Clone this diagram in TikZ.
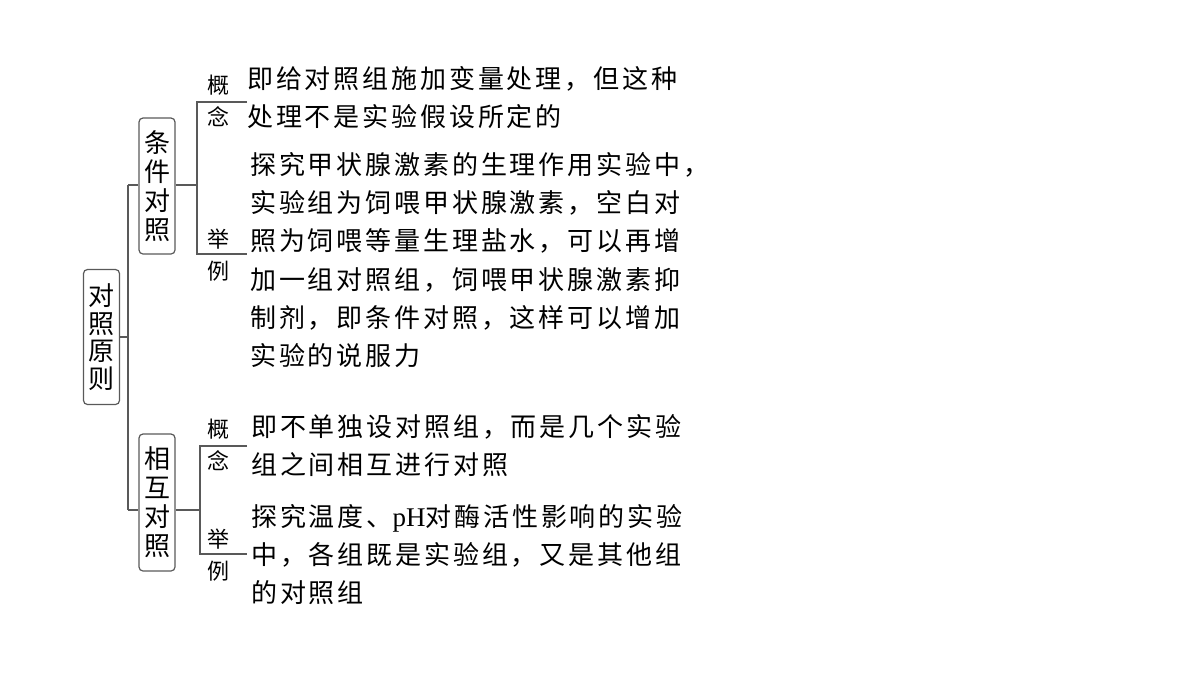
\documentclass[tikz,border=0pt]{standalone}
\usepackage{fontspec}
\setmainfont{Liberation Serif}
\newfontfamily\cjk[LetterSpace=11]{Noto Sans CJK SC}
\newfontfamily\cjkbox{Noto Sans CJK SC}
\usetikzlibrary{positioning}

\begin{document}
\begin{tikzpicture}[x=1pt,y=-1pt]
\tikzset{box/.style = {draw=black!65,line width=1.2pt,rounded corners=4pt,inner sep=0pt,minimum width=36pt,align=center,font=\cjkbox\fontsize{26}{29}\selectfont}}
\tikzset{tag/.style = {align=center,inner sep=0pt,font=\cjkbox\fontsize{22}{32}\selectfont}}
\tikzset{body/.style = {align=left,inner sep=0pt,anchor=base west,font=\cjk\fontsize{26}{38.2}\selectfont}}
\tikzset{link/.style = {draw=black!65,line width=1.2pt}}
\useasboundingbox (0,0) rectangle (1200,675);

% boxes
\node[box,minimum height=135pt,font=\cjkbox\fontsize{26}{27.5}\selectfont] (root) at (101.5,337) {对\\照\\原\\则};
\node[box,minimum height=136pt] (cond) at (157,186) {条\\件\\对\\照};
\node[box,minimum height=137pt] (mutual) at (157,502.5) {相\\互\\对\\照};

% tags
\node[tag] (def1tag) at (218,101) {概\\念};
\node[tag] (ex1tag) at (218,255) {举\\例};
\node[tag] (def2tag) at (218,445) {概\\念};
\node[tag] (ex2tag) at (218,555) {举\\例};

% texts (anchored at the last line)
\node[body] (def1) at (247,126.5) {即给对照组施加变量处理，但这种\\处理不是实验假设所定的};
\node[body] (ex1) at (250,365.5) {探究甲状腺激素的生理作用实验中，\\实验组为饲喂甲状腺激素，空白对\\照为饲喂等量生理盐水，可以再增\\加一组对照组，饲喂甲状腺激素抑\\制剂，即条件对照，这样可以增加\\实验的说服力};
\node[body] (def2) at (251,474.5) {即不单独设对照组，而是几个实验\\组之间相互进行对照};
\node[body] (ex2) at (251,602.5) {探究温度、{\rmfamily\fontsize{27}{38.2}\selectfont pH}对酶活性影响的实验\\中，各组既是实验组，又是其他组\\的对照组};

% joints
\coordinate (t1) at (128,185);
\coordinate (t2) at (128,510);
\coordinate (k1) at (197,185);
\coordinate (k1top) at (197,102);
\coordinate (k1bot) at (197,254);
\coordinate (k2) at (200,510);
\coordinate (k2top) at (200,446);
\coordinate (k2bot) at (200,554);

% lines
\draw[link] (root.east) -- (root.east -| t1);
\draw[link] (t1) -- (t2);
\draw[link] (t1) -- (cond.west |- t1);
\draw[link] (t2) -- (mutual.west |- t2);
\draw[link] (cond.east |- k1) -- (k1);
\draw[link] (k1top -| def1.west) -- (k1top) -- (k1bot) -- (k1bot -| def1.west);
\draw[link] (mutual.east |- k2) -- (k2);
\draw[link] (k2top -| def1.west) -- (k2top) -- (k2bot) -- (k2bot -| def1.west);

\end{tikzpicture}
\end{document}
